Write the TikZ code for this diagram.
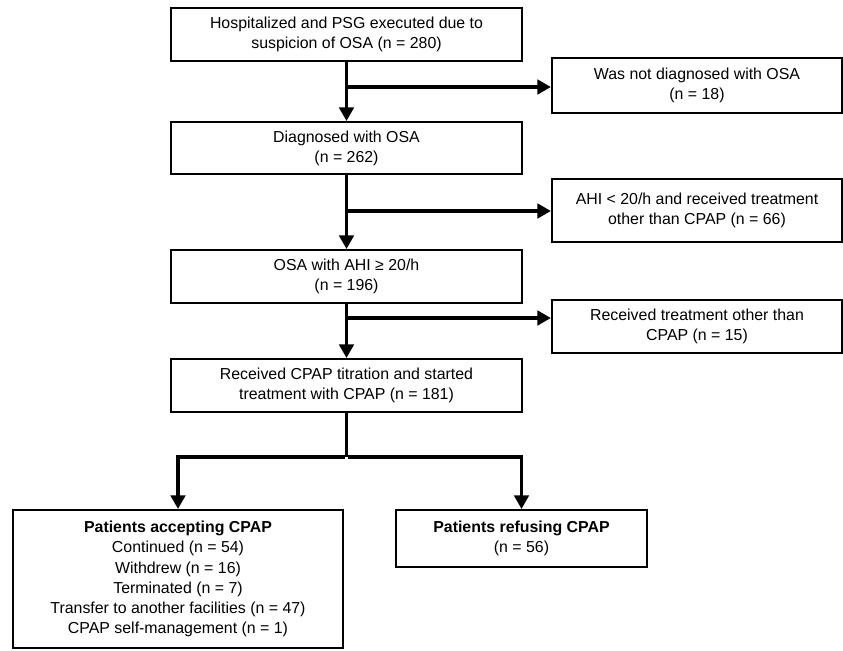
\documentclass[tikz,border=0pt]{standalone}
\usepackage{fontspec}
\setmainfont{Liberation Sans}
\usetikzlibrary{arrows.meta}
\tikzset{
    box/.style={ % every box of the flow chart
        draw,
        line width=1.4pt,
        align=center,
        inner sep=2pt,
        font=\fontsize{11.3}{14.3}\selectfont
    },
    flow/.style={ % thick connectors
        line width=2.8pt,
        -{Triangle[length=0.34cm,width=0.36cm]}
    },
    trunk/.style={line width=2.8pt}
}

\begin{document}
\begin{tikzpicture}[x=0.025cm, y=-0.025cm]
        \useasboundingbox (0,0) rectangle (843,651);
        % linke spalte
        \node[box, minimum width=8.775cm, minimum height=1.325cm] (hosp)  at (346.5,34.5)
            {Hospitalized and PSG executed due to\\suspicion of OSA (n = 280)};
        \node[box, minimum width=8.775cm, minimum height=1.3cm]   (diag)  at (346.5,148)
            {Diagnosed with OSA\\(n = 262)};
        \node[box, minimum width=8.775cm, minimum height=1.325cm] (osa)   at (346.5,276.5)
            {OSA with AHI ≥ 20/h\\(n = 196)};
        \node[box, minimum width=8.775cm, minimum height=1.325cm] (titr)  at (346.5,385.5)
            {Received CPAP titration and started\\treatment with CPAP (n = 181)};
        % rechte spalte
        \node[box, minimum width=7.25cm, minimum height=1.375cm]  (nodiag) at (697,85.5)
            {Was not diagnosed with OSA\\(n = 18)};
        \node[box, minimum width=7.25cm, minimum height=1.575cm]  (low)    at (697,210.5)
            {AHI < 20/h and received treatment\\other than CPAP (n = 66)};
        \node[box, minimum width=7.25cm, minimum height=1.325cm]  (other)  at (697,326.5)
            {Received treatment other than\\CPAP (n = 15)};
        % unten
        \node[box, minimum width=8.25cm, minimum height=3.45cm]   (accept) at (178,579)
            {\textbf{Patients accepting CPAP}\\Continued (n = 54)\\Withdrew (n = 16)\\
             Terminated (n = 7)\\Transfer to another facilities (n = 47)\\
             CPAP self-management (n = 1)};
        \node[box, minimum width=6.275cm, minimum height=1.425cm] (refuse) at (521.5,538.5)
            {\textbf{Patients refusing CPAP}\\(n = 56)};

        % abzweigungen
        \coordinate (j1) at (346.5,87);
        \coordinate (j2) at (346.5,211);
        \coordinate (j3) at (346.5,318);
        \coordinate (split) at (346.5,457);
        \coordinate (sl) at (accept.north |- split);
        \coordinate (sr) at (refuse.north |- split);

        \draw[flow] (hosp)  -- (diag);
        \draw[flow] (diag)  -- (osa);
        \draw[flow] (osa)   -- (titr);
        \draw[flow] (j1) -- (j1 -| nodiag.west);
        \draw[flow] (j2) -- (j2 -| low.west);
        \draw[flow] (j3) -- (j3 -| other.west);
        \draw[trunk] (titr.south) -- (split);
        \draw[flow] ([xshift=-1.4pt]split) -- (sl) -- (accept.north);
        \draw[flow] ([xshift=1.4pt]split) -- (sr) -- (refuse.north);
\end{tikzpicture}
\end{document}
